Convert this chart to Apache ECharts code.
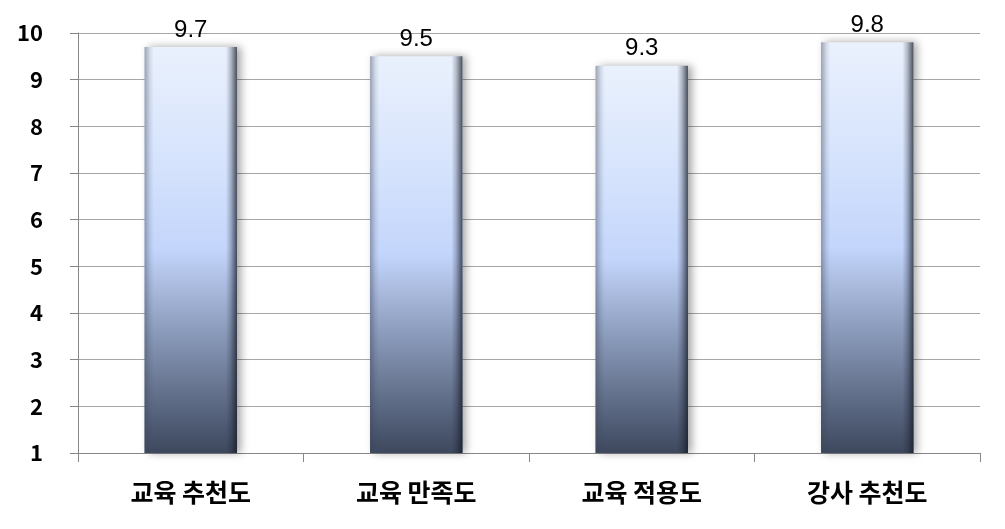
<!DOCTYPE html>
<html><head><meta charset="utf-8">
<script src="https://cdn.jsdelivr.net/npm/echarts@6/dist/echarts.min.js"></script>
<style>html,body{margin:0;padding:0;background:#fff}#c{width:1005px;height:529px}</style>
</head><body><div id="c"></div>
<script>
var categories = ['교육 추천도', '교육 만족도', '교육 적용도', '강사 추천도'];
var values = [9.7, 9.5, 9.3, 9.8];
var yTicks = [1, 2, 3, 4, 5, 6, 7, 8, 9, 10];

var chart = echarts.init(document.getElementById('c'));
chart.setOption({
  animation: false,
  grid: {left: 78, right: 25, top: 33, bottom: 76},
  xAxis: {
    type: 'category', data: categories,
    axisLine: {lineStyle: {color: '#868686', width: 1}},
    axisTick: {show: true, length: 9, interval: 0, lineStyle: {color: '#868686'}},
    axisLabel: {margin: 27, color: '#000', fontSize: 25, fontWeight: 'bold', fontFamily: 'Noto Sans CJK KR'}
  },
  yAxis: {
    type: 'value', min: yTicks[0], max: yTicks[yTicks.length - 1], interval: 1,
    axisLine: {show: true, lineStyle: {color: '#868686'}},
    axisTick: {show: true, length: 8, lineStyle: {color: '#868686'}},
    splitLine: {lineStyle: {color: '#a6a6a6'}},
    axisLabel: {margin: 35, color: '#000', fontSize: 22, fontFamily: 'Noto Sans CJK KR', fontWeight: 'bold'}
  },
  series: [{
    type: 'bar', data: values, barWidth: '41%',
    itemStyle: {
      color: new echarts.graphic.LinearGradient(0, 0, 0, 1, [
        {offset: 0, color: '#eaf1fd'},
        {offset: 0.3, color: '#d4e2fc'},
        {offset: 0.5, color: '#c3d5fb'},
        {offset: 0.7, color: '#8b9bbb'},
        {offset: 1, color: '#3d485e'}
      ]),
      shadowColor: 'rgba(0,0,0,0.35)', shadowBlur: 8, shadowOffsetX: 4, shadowOffsetY: 0
    },
    label: {show: true, position: 'top', distance: 5, color: '#000', fontSize: 24, fontFamily: 'Liberation Sans'}
  }, {
    type: 'bar', data: values, barWidth: '41%', barGap: '-100%', silent: true,
    itemStyle: {
      color: new echarts.graphic.LinearGradient(0, 0, 1, 0, [
        {offset: 0, color: 'rgba(60,70,90,0.45)'},
        {offset: 0.06, color: 'rgba(60,70,90,0.12)'},
        {offset: 0.1, color: 'rgba(60,70,90,0)'},
        {offset: 0.88, color: 'rgba(30,35,50,0)'},
        {offset: 0.93, color: 'rgba(30,35,50,0.25)'},
        {offset: 1, color: 'rgba(20,25,35,0.75)'}
      ])
    }
  }]
});
</script></body></html>
